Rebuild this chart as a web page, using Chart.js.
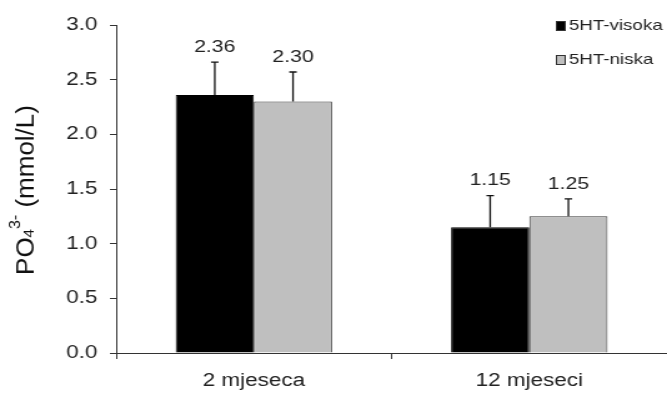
<!DOCTYPE html>
<html>
<head>
<meta charset="utf-8">
<script src="https://cdn.jsdelivr.net/npm/chart.js@4"></script>
<style>
  body { margin: 0; background: #fff; }
</style>
</head>
<body>
<!-- the reference is stretched sideways, so the canvas is drawn narrow and widened by an inline style -->
<canvas id="chart" width="534" height="394" style="display:block;width:667px;height:394px"></canvas>
<script>
const categories = ["2 mjeseca", "12 mjeseci"];
const seriesNames = ["5HT-visoka", "5HT-niska"];
const visoka = [2.36, 1.15];
const niska = [2.30, 1.25];
const visokaErr = [0.30, 0.29];
const niskaErr = [0.27, 0.16];
const yTicks = [0, 0.5, 1.0, 1.5, 2.0, 2.5, 3.0];

const FONT = "'Liberation Sans', Arial, sans-serif";

// error bars and the value labels above them
const errorBars = {
    id: "errorBars",
    afterDatasetsDraw(chart) {
        const ctx = chart.ctx;
        const y = chart.scales.y;
        chart.data.datasets.forEach((ds, di) => {
            const meta = chart.getDatasetMeta(di);
            meta.data.forEach((bar, i) => {
                const top = y.getPixelForValue(ds.data[i] + ds.errors[i]);
                ctx.save();
                ctx.strokeStyle = "#111";
                ctx.lineWidth = 1.3;
                ctx.beginPath();
                ctx.moveTo(bar.x, bar.y);
                ctx.lineTo(bar.x, top);
                ctx.moveTo(bar.x - 3, top);
                ctx.lineTo(bar.x + 3, top);
                ctx.stroke();
                ctx.fillStyle = "#222";
                ctx.font = "17px " + FONT;
                ctx.textAlign = "center";
                ctx.textBaseline = "middle";
                ctx.fillText(ds.data[i].toFixed(2), bar.x, top - 15);
                ctx.restore();
            });
        });
    }
};

// y title with sub/superscript and the legend
const extras = {
    id: "extras",
    afterDraw(chart) {
        const ctx = chart.ctx;

        // axis title
        const parts = [
            { t: "PO", size: 26, dy: 0 },
            { t: "4", size: 15, dy: 1 },
            { t: "3-", size: 16, dy: -13 },
            { t: " (mmol/L)", size: 26, dy: 0 }
        ];
        ctx.save();
        ctx.translate(26.5, 190);
        ctx.rotate(-Math.PI / 2);
        ctx.scale(1, 0.78);
        ctx.fillStyle = "#111";
        ctx.textBaseline = "alphabetic";
        ctx.textAlign = "left";
        let total = 0;
        parts.forEach(p => {
            ctx.font = p.size + "px " + FONT;
            p.w = ctx.measureText(p.t).width;
            total += p.w;
        });
        let x = -total / 2;
        parts.forEach(p => {
            ctx.font = p.size + "px " + FONT;
            ctx.fillText(p.t, x, p.dy);
            x += p.w;
        });
        ctx.restore();

        // legend
        ctx.save();
        chart.data.datasets.forEach((ds, i) => {
            const top = 21 + i * 34;
            ctx.fillStyle = ds.backgroundColor;
            ctx.fillRect(445, top, 8, 10);
            ctx.strokeStyle = "#333";
            ctx.lineWidth = 1;
            ctx.strokeRect(445.5, top + 0.5, 7, 9);
            ctx.fillStyle = "#222";
            ctx.font = "15px " + FONT;
            ctx.textAlign = "left";
            ctx.textBaseline = "middle";
            ctx.fillText(ds.label, 455.5, top + 5);
        });
        ctx.restore();
    }
};

new Chart(document.getElementById("chart"), {
    type: "bar",
    data: {
        labels: categories,
        datasets: [
            {
                label: seriesNames[0],
                data: visoka,
                errors: visokaErr,
                backgroundColor: "#000000",
                borderColor: "#000000",
                borderWidth: 1,
                categoryPercentage: 0.568,
                barPercentage: 1
            },
            {
                label: seriesNames[1],
                data: niska,
                errors: niskaErr,
                backgroundColor: "#bfbfbf",
                borderColor: "#3a3a3a",
                borderWidth: 1,
                categoryPercentage: 0.568,
                barPercentage: 1
            }
        ]
    },
    options: {
        responsive: false,
        devicePixelRatio: 1,
        animation: false,
        // the plot runs a little past the right edge, as in the reference
        layout: { padding: { top: 25, right: -4, left: 0, bottom: 0 } },
        plugins: {
            legend: { display: false },
            tooltip: { enabled: false }
        },
        scales: {
            x: {
                afterFit: s => { s.height = 41; },
                grid: { drawOnChartArea: false, tickLength: 6, color: "#333" },
                border: { color: "#333", width: 1 },
                ticks: {
                    color: "#222",
                    padding: 11,
                    font: { family: FONT, size: 18 }
                }
            },
            y: {
                min: 0,
                max: 3,
                afterFit: s => { s.width = 93; },
                afterBuildTicks: s => { s.ticks = yTicks.map(v => ({ value: v })); },
                grid: { drawOnChartArea: false, tickLength: 5, color: "#333" },
                border: { color: "#333", width: 1 },
                ticks: {
                    color: "#222",
                    padding: 10,
                    font: { family: FONT, size: 18 },
                    callback: v => v.toFixed(1)
                }
            }
        }
    },
    plugins: [errorBars, extras]
});
</script>
</body>
</html>
